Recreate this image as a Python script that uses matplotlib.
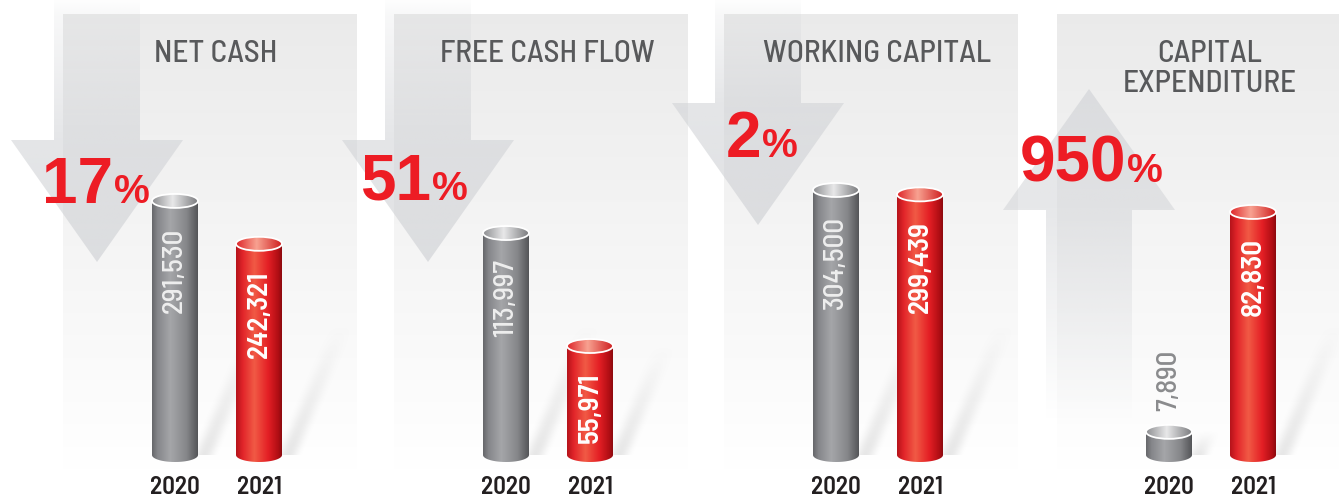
import numpy as np
import matplotlib.pyplot as plt
from matplotlib.patches import Polygon, Ellipse
from matplotlib.colors import LinearSegmentedColormap, to_rgb

## data
titles = ['NET CASH', 'FREE CASH FLOW', 'WORKING CAPITAL', 'CAPITAL\nEXPENDITURE']
years = ['2020', '2021']
values_2020 = [291530, 113997, 304500, 7890]
values_2021 = [242321, 55971, 299439, 82830]
changes = ['17', '51', '2', '950']
directions = ['down', 'down', 'down', 'up']

## layout (pixels, figure is 1339 x 497, y measured from the top)
W, H = 1339, 497
panel_x0 = [63, 394, 724, 1057]
panel_w = 294
panel_top = 14
base_y = 455          # centre of the bottom ellipse of every cylinder
axes_bottom = 465     # bottom edge of the bar axes
panel_ymax = [506000, 226500, 506700, 150300]   # value at the panel top
arrow_x = [97, 428, 758, 1089]
arrow_y = [(140, 262), (140, 262), (103, 225), (210, 89)]  # (head base, tip)
pct_pos = [(113, 203), (431, 200), (761, 157), (1126, 182)]

red = '#ed1c24'
narrow = ['Barlow Semi Condensed', 'Roboto', 'DejaVu Sans']
wide = ['Liberation Sans', 'DejaVu Sans']

gray_body = LinearSegmentedColormap.from_list('gb', [(0, '#66676a'), (0.12, '#85868a'), (0.4, '#a5a6a9'),
                                                    (0.75, '#86878a'), (1, '#545558')])
red_body = LinearSegmentedColormap.from_list('rb', [(0, '#b5131a'), (0.15, '#e2252a'), (0.4, '#f15a45'),
                                                   (0.7, '#e41f25'), (0.92, '#b00e14'), (1, '#8c0a0f')])
gray_cap = LinearSegmentedColormap.from_list('gc', [(0, '#8d8e91'), (0.45, '#e8e8e9'), (1, '#7b7c7f')])
red_cap = LinearSegmentedColormap.from_list('rc', [(0, '#de2529'), (0.45, '#f8a291'), (1, '#cf1f20')])

fig = plt.figure(figsize=(W / 100, H / 100), dpi=100)
fig.patch.set_facecolor('white')

## background: panels, arrows, titles, percentages
bg = fig.add_axes([0, 0, 1, 1])
bg.set_xlim(0, W)
bg.set_ylim(H, 0)
bg.axis('off')

shade = np.linspace(0.92, 1.0, 200)
panel_img = np.repeat(shade[:, None, None], 3, axis=2)
for x0 in panel_x0:
    bg.imshow(panel_img, extent=(x0, x0 + panel_w, 470, panel_top), origin='upper',
              aspect='auto', interpolation='bilinear', zorder=0)

ac = np.array(to_rgb('#cfd1d5'))
for i in range(4):
    cx = arrow_x[i]
    hb, tip = arrow_y[i]
    if directions[i] == 'down':
        pts = [(cx - 43, 0), (cx + 43, 0), (cx + 43, hb), (cx + 86, hb), (cx, tip), (cx - 86, hb), (cx - 43, hb)]
        y0, y1 = 0, tip
        yy = np.linspace(y0, y1, 200)
        alpha = np.interp(yy, [0, panel_top, hb, tip], [0.03, 0.15, 0.55, 0.65])
    else:
        pts = [(cx, tip), (cx + 86, hb), (cx + 43, hb), (cx + 43, 420), (cx - 43, 420), (cx - 43, hb), (cx - 86, hb)]
        y0, y1 = tip, 420
        yy = np.linspace(y0, y1, 200)
        alpha = np.interp(yy, [tip, hb, 420], [0.6, 0.5, 0.0])
    rgba = np.zeros((200, 1, 4))
    rgba[:, 0, :3] = ac
    rgba[:, 0, 3] = alpha
    poly = Polygon(pts, closed=True, facecolor='none', edgecolor='none')
    bg.add_patch(poly)
    im = bg.imshow(rgba, extent=(cx - 90, cx + 90, y1, y0), origin='upper', aspect='auto',
                   interpolation='bilinear', zorder=1)
    im.set_clip_path(poly)

for i in range(4):
    for k, line in enumerate(titles[i].split('\n')):
        bg.text(panel_x0[i] + 153, 62 + 30 * k, line, ha='center', va='baseline',
                fontsize=22.5, weight='medium', color='#58595b', family=narrow, zorder=3)
    jx, by = pct_pos[i]
    bg.text(jx, by, changes[i], ha='right', va='baseline', fontsize=46, weight='bold',
            color=red, family=wide, zorder=5)
    bg.text(jx + 1, by, '%', ha='left', va='baseline', fontsize=29, weight='bold',
            color=red, family=wide, zorder=5)

## cylinders
def cylinder(ax, xc, v, w, eh, body_cmap, cap_cmap):
    grad = np.linspace(0, 1, 256)[None, :]
    t = np.linspace(np.pi, 2 * np.pi, 50)
    pts = np.column_stack([xc + w / 2 * np.cos(t), eh / 2 * np.sin(t)])
    pts = np.vstack([pts, [xc + w / 2, v], [xc - w / 2, v]])
    body = Polygon(pts, closed=True, facecolor='none', edgecolor='none')
    ax.add_patch(body)
    im = ax.imshow(grad, cmap=body_cmap, extent=(xc - w / 2, xc + w / 2, -eh / 2, v),
                   aspect='auto', origin='lower', interpolation='bilinear', zorder=2)
    im.set_clip_path(body)
    cap = Ellipse((xc, v), w, eh, facecolor='none', edgecolor='white', lw=1.3, zorder=4)
    ax.add_patch(cap)
    im2 = ax.imshow(grad, cmap=cap_cmap, extent=(xc - w / 2, xc + w / 2, v - eh / 2, v + eh / 2),
                    aspect='auto', origin='lower', interpolation='bilinear', zorder=3)
    im2.set_clip_path(cap)


def shadow(ax, xc, v, u):
    # soft diagonal shadow to the upper right of a cylinder
    hs = min(v / u, 130)
    px = 1 / 84
    nx, ny = 80, 80
    xs = np.linspace(0, 45 + 0.42 * hs, nx)
    hh = np.linspace(0, hs, ny)
    X, Hh = np.meshgrid(xs, hh)
    s = (X - (14 + 0.42 * Hh)) / 30
    a = np.where((s > 0) & (s < 1), np.sin(np.pi * np.clip(s, 0, 1)) ** 2, 0)
    a = a * (1 - Hh / hs) * 0.3
    rgba = np.zeros((ny, nx, 4))
    rgba[..., :3] = 0.7
    rgba[..., 3] = a
    ax.imshow(rgba, extent=(xc, xc + xs[-1] * px, 0, hs * u), origin='lower',
              aspect='auto', interpolation='bilinear', zorder=1)


for i in range(4):
    u = panel_ymax[i] / (base_y - panel_top)        # value per pixel
    ax = fig.add_axes([panel_x0[i] / W, (H - axes_bottom) / H, panel_w / W,
                       (axes_bottom - panel_top) / H])
    vals = [values_2020[i], values_2021[i]]
    w = 46 / 84
    eh = 14 * u
    for j in range(2):
        shadow(ax, j, vals[j], u)
        cylinder(ax, j, vals[j], w, eh, [gray_body, red_body][j], [gray_cap, red_cap][j])
    # value labels
    if vals[0] / u > 120:
        ax.annotate(f'{vals[0]:,}', (0, vals[0]), xytext=(0, -19), textcoords='offset points',
                    rotation=90, ha='center', va='top', fontsize=21, weight='medium',
                    color='#eeeeee', family=narrow, zorder=6)
    else:
        ax.annotate(f'{vals[0]:,}', (0, vals[0]), xytext=(0, 15), textcoords='offset points',
                    rotation=90, ha='center', va='bottom', fontsize=21, weight='medium',
                    color='#8a8b8d', family=narrow, zorder=6)
    ax.annotate(f'{vals[1]:,}', (1, vals[1]), xytext=(0, -19), textcoords='offset points',
                rotation=90, ha='center', va='top', fontsize=21, color='white', weight='semibold',
                family=narrow, zorder=6)
    ax.set_xlim(-112 / 84, 182 / 84)
    ax.set_ylim(-(axes_bottom - base_y) * u, panel_ymax[i])
    ax.set_frame_on(False)
    ax.set_yticks([])
    ax.set_xticks([0, 1], years)
    ax.tick_params(axis='x', length=0, pad=8, labelsize=18, labelcolor='#231f20')
    for lab in ax.get_xticklabels():
        lab.set_fontweight('semibold')
        lab.set_family(narrow)

plt.savefig('out.png', dpi=100)
